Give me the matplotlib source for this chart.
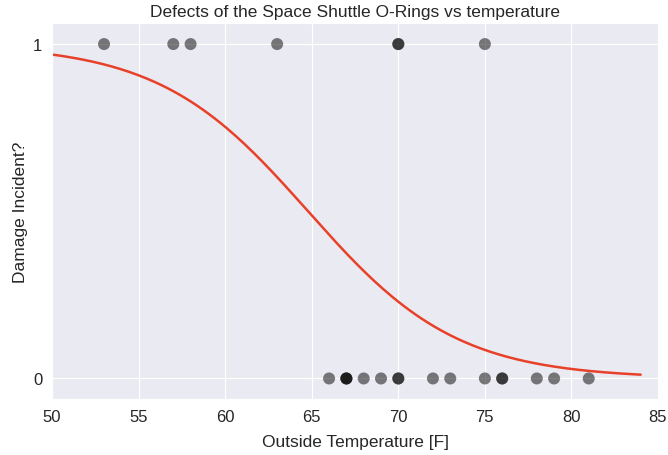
import numpy as np
import matplotlib
matplotlib.use("Agg")
import matplotlib.pyplot as plt
import seaborn as sns

# Challenger O-ring data
temperature = [53, 57, 58, 63, 66, 67, 67, 67, 68, 69, 70, 70, 70, 70,
               72, 73, 75, 75, 76, 76, 78, 79, 81]
damage = [1, 1, 1, 1, 0, 0, 0, 0, 0, 0, 0, 1, 0, 1,
          0, 0, 0, 1, 0, 0, 0, 0, 0]

# logistic fit coefficients
intercept = 15.043
slope = -0.2322

sns.set_style("darkgrid")
plt.rcParams['font.family'] = ['Liberation Sans', 'DejaVu Sans']

fig, ax = plt.subplots(figsize=(6.68, 4.56), dpi=100)
fig.subplots_adjust(left=0.078, right=0.985, top=0.947, bottom=0.122)

ax.scatter(temperature, damage, s=75, color='black', alpha=0.5, edgecolors='none', zorder=3)

x = np.linspace(50, 84, 200)
p = 1 / (1 + np.exp(-(intercept + slope * x)))
ax.plot(x, p, color='#e8412a', lw=1.8, zorder=2)

ax.set_xlim(50, 85)
ax.set_ylim(-0.0625, 1.0625)
ax.set_yticks([0, 1])
ax.tick_params(labelsize=12, colors='#262626')
ax.set_title('Defects of the Space Shuttle O-Rings vs temperature', fontsize=12.5, pad=5)
ax.set_xlabel('Outside Temperature [F]', fontsize=12.5, labelpad=7)
ax.set_ylabel('Damage Incident?', fontsize=12.5)

plt.savefig('out.png')
